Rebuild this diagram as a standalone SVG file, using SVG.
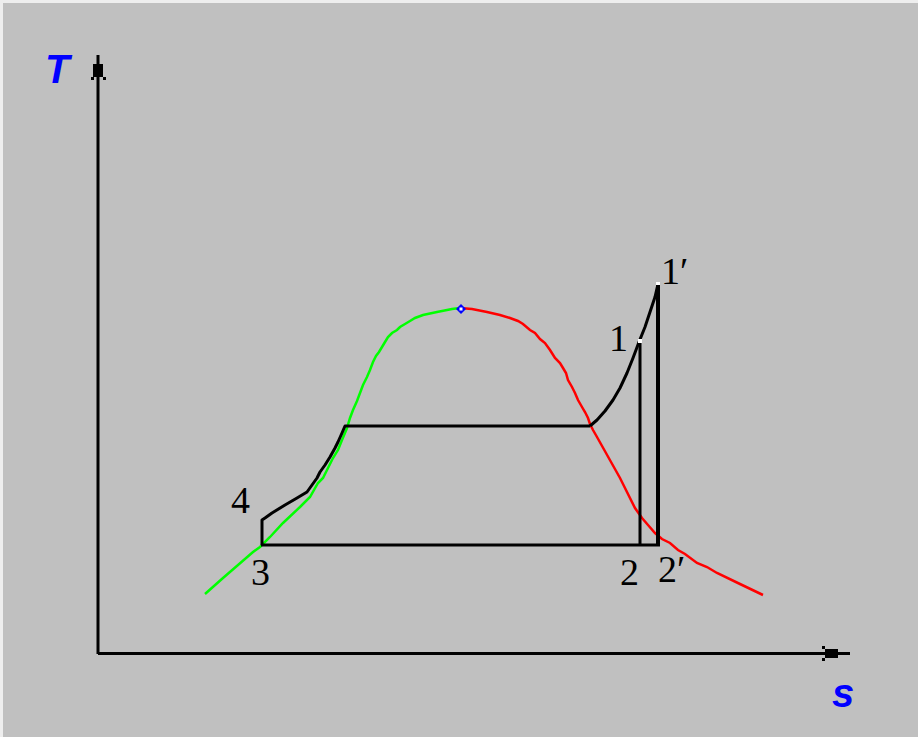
<svg xmlns="http://www.w3.org/2000/svg" width="918" height="737" viewBox="0 0 918 737">
<style>
.ax{stroke:#000;stroke-width:3;fill:none}
.cyc{stroke:#000;stroke-width:3;fill:none;stroke-linejoin:round}
.lab{font-family:"Liberation Serif","Times New Roman",serif;font-size:38px;fill:#000}
.axl{font-family:"Liberation Sans",Arial,sans-serif;font-size:40px;font-weight:bold;font-style:italic;fill:#0000ff}
</style>
<rect x="0" y="0" width="918" height="737" fill="#eeeeee"/>
<rect x="3" y="3" width="915" height="734" fill="#c0c0c0"/>
<g id="axes">
<line class="ax" x1="98" y1="55" x2="98" y2="654"/>
<rect x="93" y="64" width="10" height="13" fill="#000"/>
<rect x="91" y="77" width="3" height="3" fill="#000"/>
<rect x="103" y="77" width="3" height="3" fill="#000"/>
<line class="ax" x1="98" y1="653.5" x2="850" y2="653.5"/>
<rect x="825" y="649" width="13" height="9" fill="#000"/>
<rect x="822" y="646" width="3" height="3" fill="#000"/>
<rect x="822" y="658" width="3" height="3" fill="#000"/>
<text class="axl" x="45" y="83">T</text>
<text class="axl" x="832" y="707">s</text>
</g>
<g id="dome">
<polyline fill="none" stroke="#00ff00" stroke-width="2.5" points="205,594 223,578 253,552 260,547 270,537 283,523 300,507 310,497 318,483 323,478 328,468 333,458 338,450 342,440 347,428 350,418 353,410 357,401 360,393 363,385 367,377 370,370 373,362 376,356 379,352 382,347 385,342 388,337 392,333 397,330 400,327 405,324 410,321 415,318 423,315 437,312 452,309 460,308"/>
<polyline fill="none" stroke="#ff0000" stroke-width="2.5" points="460,308 472,309 487,312 500,315 510,318 518,321 523,324 530,330 535,333 540,339 545,343 550,350 555,358 560,363 563,368 566,373 568,380 572,387 575,393 578,400 582,407 585,412 588,418 590,424 593,430 597,437 620,478 635,508 642,518 648,525 655,533 662,539 670,543 678,550 685,554 697,563 707,567 717,573 740,584 763,595"/>
</g>
<g id="connectors">
<polyline class="cyc" points="262,545 262,520 265,518 272,513 285,505 297,498 307,492 317,478 320,472 325,465 330,457 335,448 338,442 342,433 345,426 590,426"/>
<polyline class="cyc" points="590,426 597,420 605,411 613,400 620,388 627,373 633,358 639,342 645,327 650,312 655,297 658,284"/>
<line class="cyc" x1="640" y1="341" x2="640" y2="545"/>
<line x1="658" y1="284" x2="658" y2="545" stroke="#000" stroke-width="4"/>
<line class="cyc" x1="261" y1="545" x2="660" y2="545"/>
</g>
<g id="critical">
<polygon points="461,304 466,309 461,314 456,309" fill="#0000ff"/>
<rect x="459.5" y="307.5" width="3" height="3" fill="#ffffff"/>
</g>
<g id="p1">
<rect x="638" y="339" width="4" height="4" fill="#ffffff"/>
<text class="lab" x="609" y="351">1</text>
</g>
<g id="p1p">
<rect x="656" y="282" width="4" height="3" fill="#ffffff"/>
<text class="lab" x="661" y="284">1′</text>
</g>
<g id="p2"><text class="lab" x="620" y="585">2</text></g>
<g id="p2p"><text class="lab" x="658" y="582">2′</text></g>
<g id="p3"><text class="lab" x="251" y="585">3</text></g>
<g id="p4"><text class="lab" x="231" y="513">4</text></g>
</svg>
